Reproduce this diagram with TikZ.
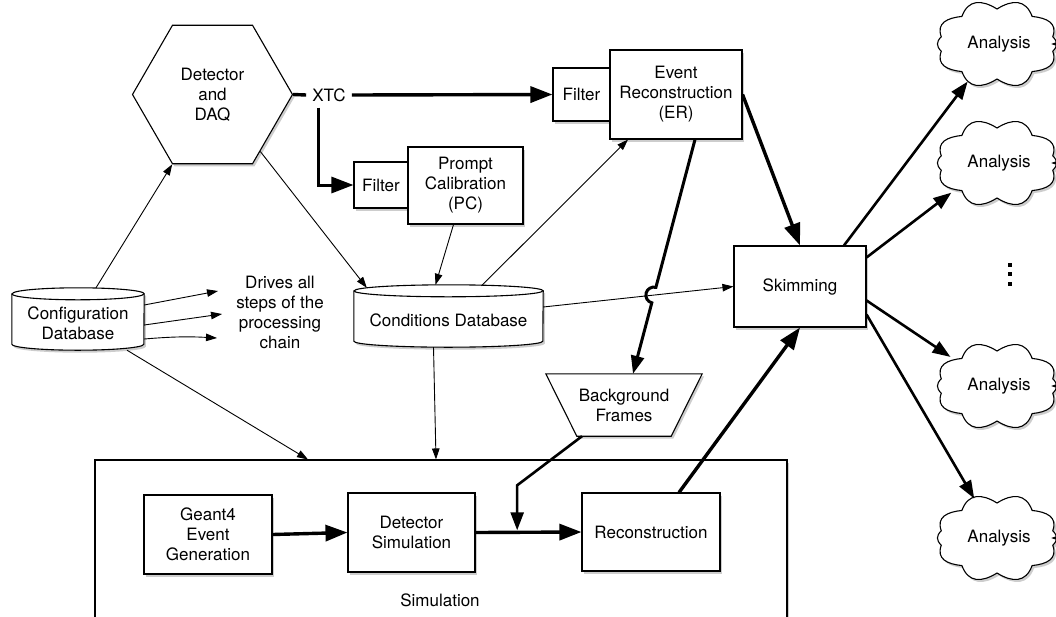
\documentclass[tikz,border=0pt]{standalone}
\usepackage{fontspec}
\setmainfont{TeX Gyre Heros}
\usetikzlibrary{shapes.geometric,shadows,arrows.meta,calc,intersections}
\newcommand\drawcyl[2]{%
  \path[draw,line width=1.1pt,fill=white,softshadow]
    ([yshift=-2pt]#1.north west) -- ([yshift=10pt]#1.south west)
    arc[start angle=180,end angle=360,x radius=#2,y radius=6pt]
    -- ([yshift=-2pt]#1.north east)
    arc[start angle=0,end angle=180,x radius=#2,y radius=6pt] -- cycle;
  \draw[line width=1.1pt] ([yshift=-2pt]#1.north west)
    arc[start angle=180,end angle=360,x radius=#2,y radius=6pt];
}
\newcommand\drawcloud[1]{%
  \path[draw,line width=1.1pt,fill=white,softshadow]
    ($(#1.center)+(12:57pt and 35pt)$)
    \foreach \t [remember=\t as \lt (initially 12)] in {52,90,128,168,192,232,270,308,348,372}
      { to[out=\lt+58,in=\t-58,looseness=1.3] ($(#1.center)+(\t:57pt and 35pt)$) } -- cycle;
}
\begin{document}
\begin{tikzpicture}[x=1pt,y=-1pt,
  font=\fontsize{17}{20}\selectfont,
  softshadow/.style={drop shadow={shadow xshift=2pt,shadow yshift=-2.5pt,opacity=0.28,fill=black!70}},
  blk/.style={draw,line width=1.1pt,fill=white,softshadow,align=center,inner sep=0pt},
  txt/.style={align=center,inner sep=0pt},
  ghost/.style={inner sep=0pt},
  cloudghost/.style={ellipse,inner sep=0pt,minimum width=128pt,minimum height=84pt},
  thinarr/.style={line width=0.9pt,-{Triangle[length=11pt,width=7.5pt]}},
  medarr/.style={line width=2.6pt,-{Triangle[length=18pt,width=13pt]}},
  thickarr/.style={line width=3.4pt,-{Triangle[length=22pt,width=16pt]}},
  thickline/.style={line width=3.4pt}
]
\clip (0,0) rectangle (1056,616);
\fill[white] (0,0) rectangle (1056,616);

% ---- nodes ----
\node[regular polygon,regular polygon sides=6,minimum size=160pt,draw,line width=1.1pt,fill=white,softshadow,align=center,inner sep=0pt] (hex) at (212.5,94.5) {Detector\\and\\DAQ};
\node[txt,inner sep=6pt] (xtc) at (329,95) {XTC};

\node[blk,minimum width=57pt,minimum height=53pt] (fer) at (581.5,94.5) {Filter};
\node[blk,minimum width=132pt,minimum height=89pt] (er) at (676,94.5) {Event\\Reconstruction\\(ER)};

\node[blk,minimum width=54pt,minimum height=46pt] (fpc) at (381,185) {Filter};
\node[blk,minimum width=115pt,minimum height=77pt] (pc) at (465.5,185.5) {Prompt\\Calibration\\(PC)};

\node[ghost,minimum width=132pt,minimum height=62pt] (cfg) at (78,323) {};
\drawcyl{cfg}{66pt}
\node[txt] (cfgtxt) at (cfg.center) {Configuration\\Database};

\node[txt] (drives) at (280,312) {Drives all\\steps of the\\processing\\chain};

\node[ghost,minimum width=189pt,minimum height=62pt] (cond) at (448.5,320) {};
\drawcyl{cond}{94.5pt}
\node[txt] (condtxt) at (cond.center) {Conditions Database};

\node[ghost,minimum width=156pt,minimum height=62pt] (bg) at (624,405) {};
\path[draw,line width=1.1pt,fill=white,softshadow]
  (bg.north west) -- (bg.north east) -- ([xshift=-31pt]bg.south east) -- ([xshift=31pt]bg.south west) -- cycle;
\node[txt] (bgtxt) at (bg.center) {Background\\Frames};

\node[blk,minimum width=132pt,minimum height=81pt] (skim) at (800,286.5) {Skimming};

\node[blk,minimum width=692pt,minimum height=180pt] (sim) at (441,550) {};
\node[txt] (simlbl) at (440,600) {Simulation};
\node[blk,minimum width=128pt,minimum height=79pt] (geant) at (208,534.5) {Geant4\\Event\\Generation};
\node[blk,minimum width=127pt,minimum height=79pt] (det) at (411.5,532.5) {Detector\\Simulation};
\node[blk,minimum width=138pt,minimum height=78pt] (recon) at (651,532) {Reconstruction};

\foreach \nm/\yy in {an1/44,an2/163,an3/386,an4/538}{
  \node[cloudghost] (\nm) at (997,\yy) {};
  \drawcloud{\nm}
  \node[txt] (\nm txt) at ([xshift=2pt]\nm.center) {Analysis};
}

\fill (1008,263) rectangle (1012,267);
\fill (1008,272) rectangle (1012,276);
\fill (1008,282) rectangle (1012,286);

% ---- connectors ----
\draw[thickline] (hex.east) -- (xtc.west);
\draw[thickarr] (xtc.east) -- (fer.west);
\draw[thickarr,line width=3pt] ([xshift=-11pt]xtc.south) |- (fpc.west);

\draw[thinarr] ([xshift=18pt,yshift=4pt]cfg.north) -- (hex.240);
\draw[thinarr] ([xshift=49pt,yshift=4pt]cfg.south) -- ([xshift=-133pt]sim.north);
\coordinate (d1) at (218,291);
\coordinate (d2) at (222,314);
\coordinate (d3) at (217,338);
\draw[thinarr] ([yshift=18pt]cfg.east) -- (d1);
\draw[thinarr] ([yshift=-2pt]cfg.east) -- (d2);
\draw[thinarr] ([yshift=-16pt]cfg.east) to[bend left=4] (d3);

\draw[thinarr] (hex.-50) -- ([xshift=13pt,yshift=1pt]cond.north west);
\draw[thinarr] ([xshift=-12pt]pc.south) -- ([xshift=-13pt,yshift=4pt]cond.north);
\draw[thinarr] ([xshift=33pt,yshift=3pt]cond.north) -- ([xshift=-48pt]er.south);
\draw[thinarr] ([xshift=-15pt,yshift=4pt]cond.south) -- ([xshift=-5pt]sim.north);

\path[name path=condskim] ([yshift=13pt]cond.east) -- (skim.west);
\draw[thinarr] ([yshift=13pt]cond.east) -- (skim.west);

\coordinate (erb) at ([xshift=19pt]er.south);
\coordinate (bgt) at ([xshift=9pt]bg.north);
\path[name path=erbg] (erb) -- (bgt);
\path[name intersections={of=condskim and erbg,by=X}];
\draw[medarr,line width=3pt] let \p1=($(bgt)-(erb)$), \n1={atan2(\y1,\x1)} in
  (erb) -- ($(X)!8pt!(erb)$) arc[start angle=\n1+180,delta angle=180,radius=8pt] -- (bgt);

\draw[thickarr] (er.east) -- (skim.north);

\coordinate (jn) at ($(det.east)!0.393!(recon.west)$);
\draw[thickarr] (det.east) -- (recon.west);
\draw[thickarr] (geant.east) -- (det.west);
\draw[medarr] ([xshift=-42pt]bg.south) -- ($(jn)+(0,-47)$) -- ([yshift=2pt]jn);

\draw[thickarr] ([xshift=28pt]recon.north) -- (skim.south);

\draw[medarr] ([xshift=44pt]skim.north) -- (an1.232);
\draw[medarr] ([yshift=-12pt]skim.north east) -- (an2.213);
\draw[medarr] ([yshift=-14pt]skim.east) -- (an3.148);
\draw[medarr] ([yshift=-28pt]skim.east) -- (an4.120);

\foreach \a in {an1,an2,an3,an4}
  \draw[thinarr] ([xshift=20pt]\a.east) -- ([xshift=-10pt]\a.east);
\end{tikzpicture}
\end{document}
